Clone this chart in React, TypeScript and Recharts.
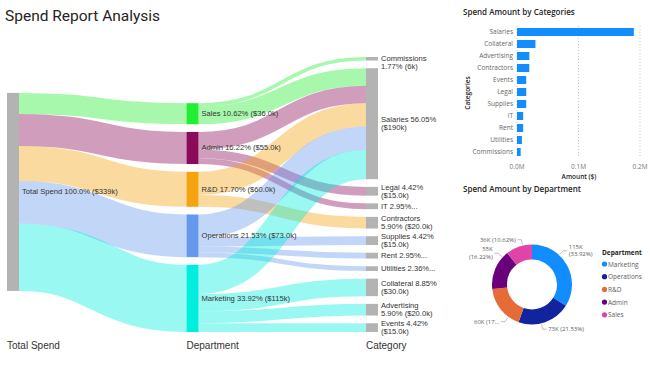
import React from 'react';
import { Sankey, BarChart, Bar, XAxis, YAxis, CartesianGrid, PieChart, Pie, Cell } from 'recharts';

// ---------- data ----------
const totalName = 'Total Spend';
const totalLabel = 'Total Spend 100.0% ($339k)';
const departments = ['Sales', 'Admin', 'R&D', 'Operations', 'Marketing'];
const departmentSpend = [36000, 55000, 60000, 73000, 115000];
const departmentLabels = [
  'Sales 10.62% ($36.0k)',
  'Admin 16.22% ($55.0k)',
  'R&D 17.70% ($60.0k)',
  'Operations 21.53% ($73.0k)',
  'Marketing 33.92% ($115k)',
];
const categories = ['Commissions', 'Salaries', 'Legal', 'IT', 'Contractors', 'Supplies', 'Rent', 'Utilities', 'Collateral', 'Advertising', 'Events'];
const categoryLabels = [
  ['Commissions', '1.77% (6k)'],
  ['Salaries 56.05%', '($190k)'],
  ['Legal 4.42%', '($15.0k)'],
  ['IT 2.95%...'],
  ['Contractors', '5.90% ($20.0k)'],
  ['Supplies 4.42%', '($15.0k)'],
  ['Rent 2.95%...'],
  ['Utilities 2.36%...'],
  ['Collateral 8.85%', '($30.0k)'],
  ['Advertising', '5.90% ($20.0k)'],
  ['Events 4.42%', '($15.0k)'],
];
const flowFrom = ['Sales', 'Sales', 'Admin', 'Admin', 'Admin', 'R&D', 'R&D', 'Operations', 'Operations', 'Operations', 'Operations', 'Marketing', 'Marketing', 'Marketing', 'Marketing'];
const flowTo = ['Commissions', 'Salaries', 'Salaries', 'Legal', 'IT', 'Salaries', 'Contractors', 'Salaries', 'Supplies', 'Rent', 'Utilities', 'Salaries', 'Collateral', 'Advertising', 'Events'];
const flowAmount = [6000, 30000, 30000, 15000, 10000, 40000, 20000, 40000, 15000, 10000, 8000, 50000, 30000, 20000, 15000];
const columnTitles = ['Total Spend', 'Department', 'Category'];

const pieDepartments = ['Marketing', 'Operations', 'R&D', 'Admin', 'Sales'];
const pieLabels = [['115K', '(33.92%)'], ['73K (21.53%)'], ['60K (17...'], ['55K', '(16.22%)'], ['36K (10.62%)']];
const barTicks = [0, 100000, 200000];

// ---------- styles ----------
const GRAY = '#b3b3b3';
const deptColors = ['#22ee33', '#8b0a5a', '#f5a30f', '#6699ee', '#00eedd'];
const pieColors = ['#118DFF', '#12239E', '#E66C37', '#6B007B', '#E044A7'];
const SANS = "'Liberation Sans', Arial, sans-serif";
const PBI = "'Open Sans', 'Noto Sans', sans-serif";
const SK = { left: 7, top: 57, right: 82, bottom: 36, width: 460, height: 368, nodeWidth: 12 };

// ---------- derived structures ----------
const sankeyNodes = [{ name: totalName }, ...departments.map((name) => ({ name })), ...categories.map((name) => ({ name }))];
const sankeyLinks = [
  ...departments.map((d, i) => ({ source: 0, target: 1 + i, value: departmentSpend[i] })),
  ...flowFrom.map((f, i) => ({
    source: 1 + departments.indexOf(f),
    target: 1 + departments.length + categories.indexOf(flowTo[i]),
    value: flowAmount[i],
  })),
];

const categoryTotals = categories.map((c) => flowTo.reduce((s, t, i) => (t === c ? s + flowAmount[i] : s), 0));
const barData = categories
  .map((name, i) => ({ name, value: categoryTotals[i] }))
  .sort((a, b) => b.value - a.value || a.name.localeCompare(b.name));

const pieData = pieDepartments.map((name) => ({ name, value: departmentSpend[departments.indexOf(name)] }));

// ---------- renderers ----------
const SankeyNode = (props: any) => {
  const { x, y, width, height, payload } = props;
  const name = payload.name;
  let fill = GRAY;
  let lines: string[] = [];
  const di = departments.indexOf(name);
  const ci = categories.indexOf(name);
  if (name === totalName) lines = [totalLabel];
  else if (di >= 0) {
    fill = deptColors[di];
    lines = [departmentLabels[di]];
  } else if (ci >= 0) lines = categoryLabels[ci];
  const lh = 8.5;
  let firstY = y + height / 2 - ((lines.length - 1) * lh) / 2;
  if (firstY < SK.top + 1) firstY = SK.top + 1;
  return (
    <g>
      <rect x={x} y={y} width={width} height={height} fill={fill} />
      {lines.map((t, i) => (
        <text key={i} x={x + width + 3} y={firstY + i * lh} dominantBaseline="central" fontSize={7.6} fontFamily={SANS} fill="#333">
          {t}
        </text>
      ))}
    </g>
  );
};

const SankeyLink = (props: any) => {
  const { sourceX, targetX, sourceY, targetY, sourceControlX, targetControlX, linkWidth, payload } = props;
  const dept = payload.source.name === totalName ? payload.target.name : payload.source.name;
  const color = deptColors[departments.indexOf(dept)] || GRAY;
  return (
    <path
      d={`M${sourceX},${sourceY}C${sourceControlX},${sourceY} ${targetControlX},${targetY} ${targetX},${targetY}`}
      fill="none"
      stroke={color}
      strokeWidth={linkWidth}
      strokeOpacity={0.4}
    />
  );
};

const RAD = Math.PI / 180;
// labels are anchored on the ring, pulled toward the vertical axis so they stay clear of the legend
const PieLabel = (props: any) => {
  const { cx, cy, midAngle, outerRadius, index } = props;
  let cw = (90 - midAngle) % 360; // clockwise from 12 o'clock
  if (cw < 0) cw += 360;
  const target = cw > 90 && cw < 270 ? 180 : cw >= 270 ? 360 : 0;
  const a = (target + (cw - target) * 0.7) * RAD;
  const s = Math.sin(a);
  const c = Math.cos(a);
  const sx = cx + (outerRadius + 1) * s;
  const sy = cy - (outerRadius + 1) * c;
  const mx = cx + (outerRadius + 6) * s;
  const my = cy - (outerRadius + 6) * c;
  const right = s >= 0;
  const ex = mx + (right ? 4 : -4);
  const lines = pieLabels[index];
  const lh = 7.5;
  const first = my - ((lines.length - 1) * lh) / 2;
  return (
    <g>
      <polyline points={`${sx},${sy} ${mx},${my} ${ex},${my}`} fill="none" stroke="#999" strokeWidth={0.6} />
      {lines.map((t, i) => (
        <text key={i} x={ex + (right ? 1.5 : -1.5)} y={first + i * lh} textAnchor={right ? 'start' : 'end'} dominantBaseline="central" fontSize={6} fontFamily={PBI} fill="#605E5C">
          {t}
        </text>
      ))}
    </g>
  );
};

export default function App() {
  const colStep = (SK.width - SK.left - SK.right - SK.nodeWidth) / 2;
  return (
    <div style={{ position: 'absolute', left: 0, top: 0, width: 650, height: 368, background: '#fff', overflow: 'hidden' }}>
      <div style={{ position: 'absolute', left: 0, top: 0 }}>
        <Sankey
          width={SK.width}
          height={SK.height}
          data={{ nodes: sankeyNodes, links: sankeyLinks }}
          margin={{ left: SK.left, top: SK.top, right: SK.right, bottom: SK.bottom }}
          nodeWidth={SK.nodeWidth}
          nodePadding={7.7}
          sort={false}
          iterations={32}
          node={SankeyNode}
          link={SankeyLink}
        />
      </div>

      <div style={{ position: 'absolute', left: 440, top: 0 }}>
        <BarChart width={210} height={185} data={barData} layout="vertical" margin={{ top: 26, right: 10, bottom: 0, left: 0 }} barSize={8}>
          <CartesianGrid horizontal={false} strokeDasharray="1 2" stroke="#c8c8c8" />
          <XAxis
            type="number"
            domain={[0, 200000]}
            ticks={barTicks}
            tickFormatter={(v: number) => (v / 1e6).toFixed(1) + 'M'}
            height={27}
            tickLine={false}
            axisLine={false}
            tickSize={0}
            tickMargin={6}
            tick={{ fontSize: 6.5, fill: '#777', fontFamily: PBI }}
          />
          <YAxis
            type="category"
            dataKey="name"
            width={77}
            tickLine={false}
            axisLine={false}
            tickSize={0}
            tickMargin={4}
            interval={0}
            tick={{ fontSize: 6.5, fill: '#666', fontFamily: PBI }}
          />
          <Bar dataKey="value" fill="#118DFF" isAnimationActive={false} />
        </BarChart>
      </div>

      <div style={{ position: 'absolute', left: 440, top: 190 }}>
        <PieChart width={210} height={178} margin={{ top: 0, right: 0, bottom: 0, left: 0 }}>
          <Pie
            data={pieData}
            dataKey="value"
            nameKey="name"
            cx={92}
            cy={94.5}
            innerRadius={25}
            outerRadius={40}
            startAngle={90}
            endAngle={-270}
            stroke="none"
            label={PieLabel}
            labelLine={false}
            isAnimationActive={false}
          >
            {pieData.map((d, i) => (
              <Cell key={d.name} fill={pieColors[i]} />
            ))}
          </Pie>
        </PieChart>
      </div>

      <svg width={650} height={368} style={{ position: 'absolute', left: 0, top: 0, pointerEvents: 'none' }}>
        <text x={5} y={21} fontSize={15.5} fontFamily="Roboto, sans-serif" fill="#252423">Spend Report Analysis</text>
        {columnTitles.map((t, i) => (
          <text key={t} x={SK.left + i * colStep} y={345} dominantBaseline="central" fontSize={10} fontFamily={SANS} fill="#333">
            {t}
          </text>
        ))}
        <text x={463} y={15} fontSize={8} fontWeight={600} fontFamily={PBI} fill="#252423">Spend Amount by Categories</text>
        <text x={467} y={93} transform="rotate(-90 467 93)" textAnchor="middle" dominantBaseline="central" fontSize={6.5} fontWeight={600} fontFamily={PBI} fill="#252423">Categories</text>
        <text x={579} y={176} textAnchor="middle" dominantBaseline="central" fontSize={6.5} fontWeight={600} fontFamily={PBI} fill="#252423">Amount ($)</text>
        <text x={463} y={191.5} fontSize={8} fontWeight={600} fontFamily={PBI} fill="#252423">Spend Amount by Department</text>
        <text x={602} y={252} dominantBaseline="central" fontSize={6.5} fontWeight={700} fontFamily={PBI} fill="#252423">Department</text>
        {pieData.map((d, i) => (
          <g key={d.name}>
            <circle cx={604.5} cy={264 + i * 12.7} r={2.6} fill={pieColors[i]} />
            <text x={608} y={264 + i * 12.7} dominantBaseline="central" fontSize={6.5} fontFamily={PBI} fill="#605E5C">{d.name}</text>
          </g>
        ))}
      </svg>
    </div>
  );
}
